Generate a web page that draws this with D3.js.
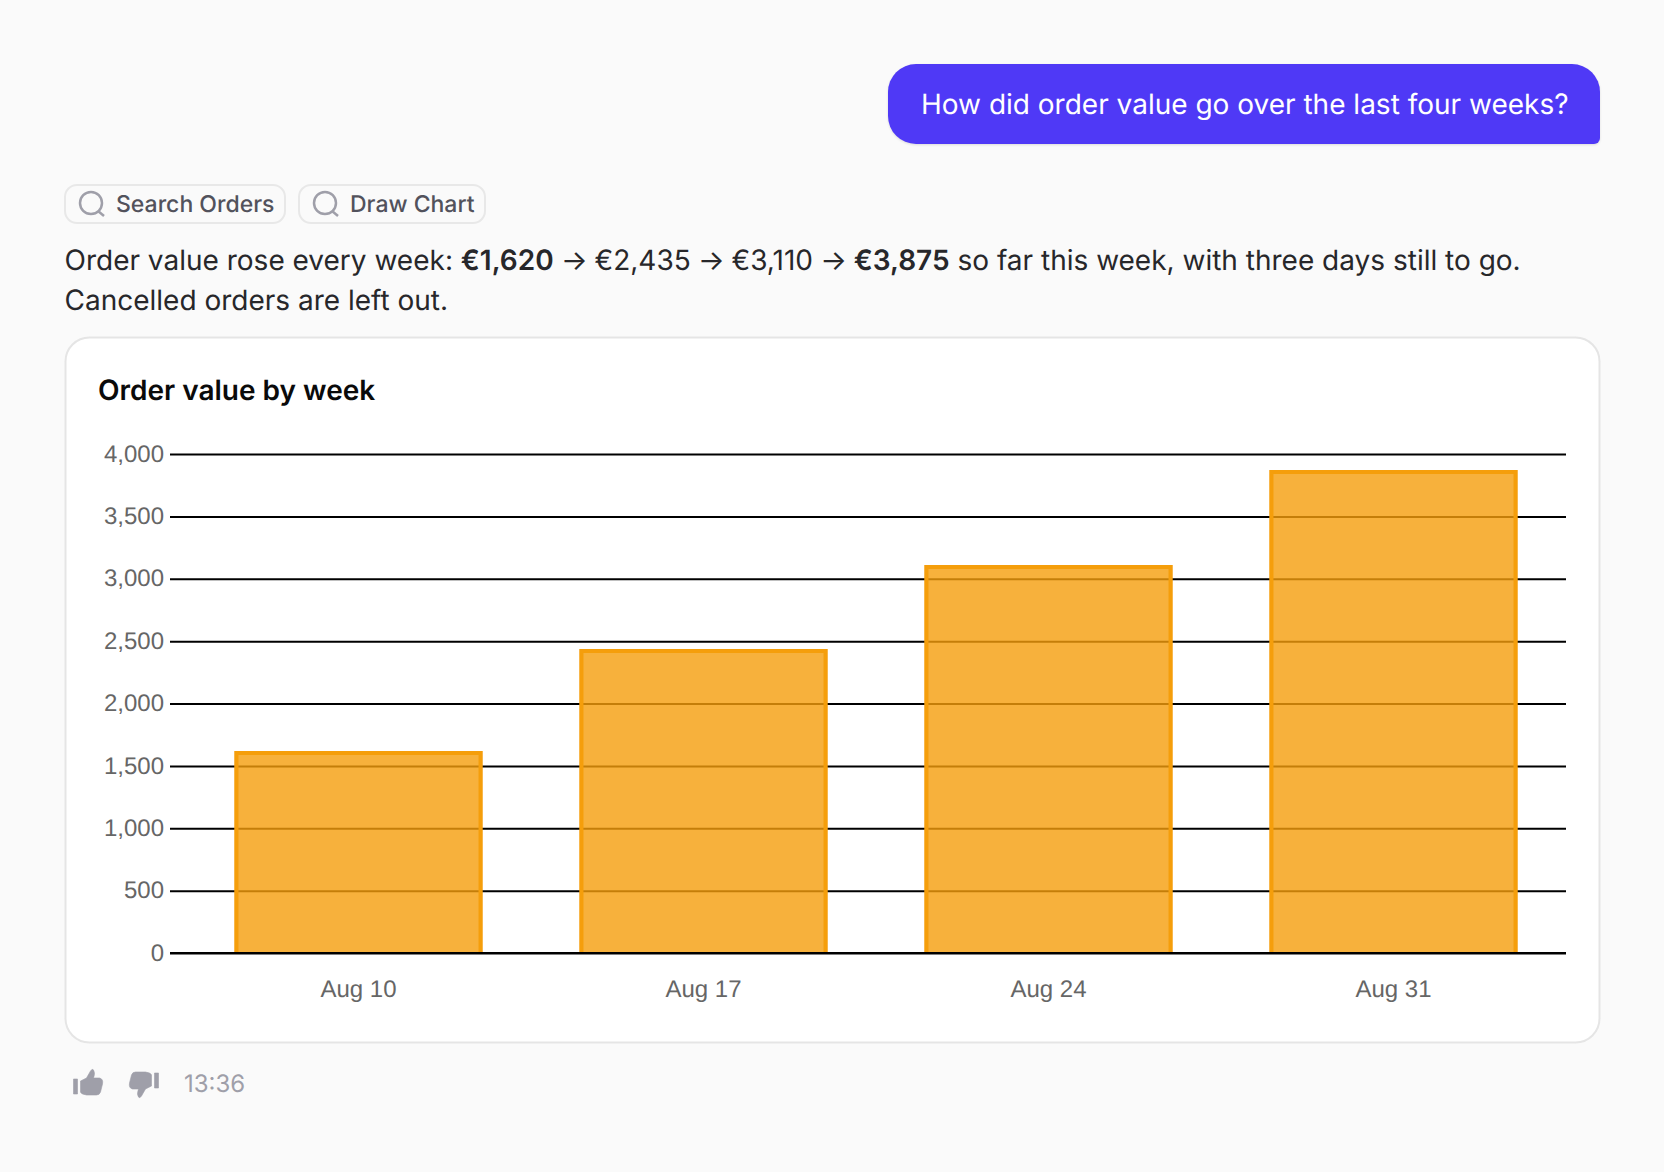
<!DOCTYPE html>
<html>
<head>
<meta charset="utf-8">
<script src="https://cdn.jsdelivr.net/npm/d3@7"></script>
<style>
  html, body { margin: 0; background: #fafafa; }
  svg { display: block; font-family: Inter, sans-serif; text-rendering: geometricPrecision; }
</style>
</head>
<body>
<div id="chart-area"></div>
<script>
// chart data
var weeks = ['Aug 10', 'Aug 17', 'Aug 24', 'Aug 31']
var orderValues = [1620, 2435, 3110, 3875]
var yTicks = [0, 500, 1000, 1500, 2000, 2500, 3000, 3500, 4000]

// chat texts
var question = 'How did order value go over the last four weeks?'
var chips = ['Search Orders', 'Draw Chart']
var chipLefts = [65, 299]
var chipRights = [285, 485]
var answerParts = [
  ['Order value rose every week: ', false],
  ['€1,620', true],
  [' → ', false],
  ['€2,435', false],
  [' → ', false],
  ['€3,110', false],
  [' → ', false],
  ['€3,875', true],
  [' so far this week, with three days still to go.', false]
]
var answerEnd = 'Cancelled orders are left out.'
var chartTitle = 'Order value by week'
var timeLabel = '13:36'

var tickFont = '"Liberation Sans", Arial, sans-serif'

var svg = d3.select('#chart-area')
  .append('svg')
  .attr('width', 1664)
  .attr('height', 1172)

// question bubble
svg.append('path')
  .attr('d', 'M916 64 H1572 A28 28 0 0 1 1600 92 V138 A6 6 0 0 1 1594 144 H916 A28 28 0 0 1 888 116 V92 A28 28 0 0 1 916 64 Z')
  .attr('fill', '#4f39f6')
  .style('filter', 'drop-shadow(0 1px 1px rgba(0,0,0,0.12))')

svg.append('text')
  .attr('x', 921)
  .attr('y', 114)
  .attr('font-size', 28)
  .attr('fill', '#fff')
  .text(question)

// tool chips
chips.forEach(function (label, i) {
  var left = chipLefts[i]
  svg.append('rect')
    .attr('x', left)
    .attr('y', 185)
    .attr('width', chipRights[i] - left)
    .attr('height', 38)
    .attr('rx', 12)
    .attr('fill', '#fafafa')
    .attr('stroke', '#e8e8e8')
    .attr('stroke-width', 2)
  svg.append('circle')
    .attr('cx', left + 26)
    .attr('cy', 203)
    .attr('r', 11)
    .attr('fill', 'none')
    .attr('stroke', '#9f9fa9')
    .attr('stroke-width', 2.5)
  svg.append('line')
    .attr('x1', left + 33)
    .attr('y1', 211)
    .attr('x2', left + 39)
    .attr('y2', 216)
    .attr('stroke', '#9f9fa9')
    .attr('stroke-width', 2.5)
  svg.append('text')
    .attr('x', left + 51)
    .attr('y', 212)
    .attr('font-size', 23)
    .attr('font-weight', 500)
    .attr('fill', '#52525c')
    .text(label)
})

// answer text
var answer = svg.append('text')
  .attr('x', 64.5)
  .attr('y', 270)
  .attr('font-size', 28)
  .attr('fill', '#27272a')
  .attr('xml:space', 'preserve')
  .style('white-space', 'pre')

answer.selectAll('tspan')
  .data(answerParts)
  .enter().append('tspan')
  .attr('font-weight', function (d) { return d[1] ? 600 : 400 })
  // arrows sit a little tighter than the font gives them
  .attr('letter-spacing', function (d) { return d[0] === ' → ' ? -0.55 : 0 })
  .text(function (d) { return d[0] })

svg.append('text')
  .attr('x', 64.5)
  .attr('y', 310)
  .attr('font-size', 28)
  .attr('fill', '#27272a')
  .text(answerEnd)

// chart card
svg.append('rect')
  .attr('x', 65.5)
  .attr('y', 337.5)
  .attr('width', 1534)
  .attr('height', 705)
  .attr('rx', 24)
  .attr('fill', '#fff')
  .attr('stroke', '#e5e5e5')
  .attr('stroke-width', 2)

svg.append('text')
  .attr('x', 98)
  .attr('y', 400)
  .attr('font-size', 28)
  .attr('font-weight', 600)
  .attr('fill', '#0a0a0a')
  .text(chartTitle)

// Scales
var x = d3.scaleBand()
  .domain(weeks)
  .range([186, 1566])
  .paddingInner(0.281)
  .paddingOuter(0.1405)

var y = d3.scaleLinear()
  .domain([0, 4000])
  .range([953, 454])

// y axis with gridlines, ticks run out to the left of the band range
var yAxisGroup = svg.append('g')
  .attr('transform', 'translate(170, 0)')
  .call(d3.axisRight(y)
    .tickValues(yTicks)
    .tickSize(1396)
    .tickFormat(d3.format(',')))

yAxisGroup.select('.domain').remove()
yAxisGroup.selectAll('line')
  .attr('stroke', '#000')
  .attr('stroke-width', 2)
yAxisGroup.selectAll('text')
  .attr('x', -6)
  .attr('dy', '0.3em')
  .attr('text-anchor', 'end')
  .attr('font-family', tickFont)
  .attr('font-size', 24)
  .attr('fill', '#666')

// bars, fill is see through so the gridlines show
var bars = svg.append('g')
  .selectAll('g')
  .data(weeks)
  .enter().append('g')

bars.append('rect')
  .attr('x', function (d) { return x(d) })
  .attr('y', function (d, i) { return Math.round(y(orderValues[i])) })
  .attr('width', x.bandwidth())
  .attr('height', function (d, i) { return y(0) - Math.round(y(orderValues[i])) })
  .attr('fill', 'rgba(245, 158, 11, 0.8)')

// border has no bottom side
bars.append('path')
  .attr('d', function (d, i) {
    var l = x(d) + 2
    var r = x(d) + x.bandwidth() - 2
    var t = Math.round(y(orderValues[i])) + 2
    return 'M' + l + ' ' + y(0) + ' V' + t + ' H' + r + ' V' + y(0)
  })
  .attr('fill', 'none')
  .attr('stroke', '#f59e0b')
  .attr('stroke-width', 4)

// zero line sits over the bars
svg.append('line')
  .attr('x1', 170)
  .attr('x2', 1566)
  .attr('y1', y(0))
  .attr('y2', y(0))
  .attr('stroke', '#000')
  .attr('stroke-width', 2)

// x axis labels
var xAxisGroup = svg.append('g')
  .attr('transform', 'translate(0, ' + y(0) + ')')
  .call(d3.axisBottom(x).tickSize(0).tickPadding(27))

xAxisGroup.select('.domain').remove()
xAxisGroup.selectAll('text')
  .attr('font-family', tickFont)
  .attr('font-size', 24)
  .attr('fill', '#666')

// feedback icons
var thumb = 'M7 12 L13 9 L17 2 Q19 -1 20 1 Q22 4 20 9 L26 9 Q30 10 29 15 L27 23 Q26 26 23 26 L13 26 Q7 25 7 23 Z'
var thumbBar = 'M0 10 H4 V25 H0 Z'

svg.append('g')
  .attr('transform', 'translate(73.5, 1069)')
  .selectAll('path')
  .data([thumb, thumbBar])
  .enter().append('path')
  .attr('d', function (d) { return d })
  .attr('fill', '#9f9fa9')
  .attr('stroke', '#9f9fa9')
  .attr('stroke-width', 0.6)
  .attr('stroke-linejoin', 'round')

svg.append('g')
  .attr('transform', 'translate(158.5, 1098) rotate(180)')
  .selectAll('path')
  .data([thumb, thumbBar])
  .enter().append('path')
  .attr('d', function (d) { return d })
  .attr('fill', '#9f9fa9')
  .attr('stroke', '#9f9fa9')
  .attr('stroke-width', 0.6)
  .attr('stroke-linejoin', 'round')

svg.append('text')
  .attr('x', 184)
  .attr('y', 1092)
  .attr('font-size', 24)
  .attr('fill', '#9f9fa9')
  .text(timeLabel)
</script>
</body>
</html>
